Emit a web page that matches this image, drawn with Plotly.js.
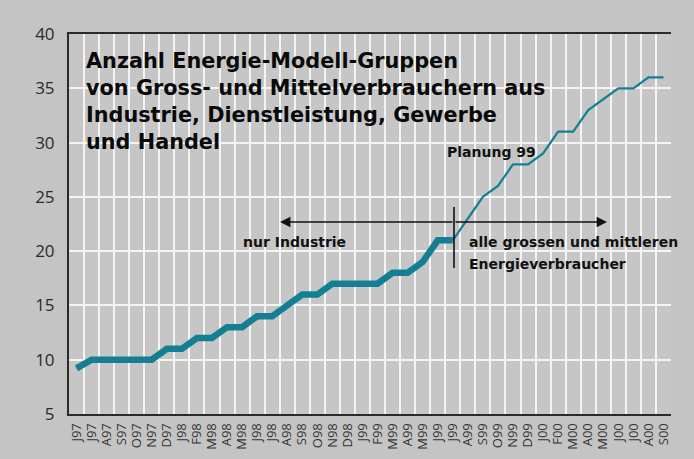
<!DOCTYPE html>
<html><head><meta charset="utf-8">
<script src="https://cdn.plot.ly/plotly-3.0.1.min.js"></script>
<style>html,body{margin:0;padding:0;background:#c4c4c4}</style>
</head><body><div id="chart" style="width:694px;height:459px"></div>
<script>
const months = ["J97","J97","A97","S97","O97","N97","D97","J98","F98","M98","A98","M98","J98","J98","A98","S98","O98","N98","D98","J99","F99","M99","A99","M99","J99","J99","A99","S99","O99","N99","D99","J00","F00","M00","A00","M00","J00","J00","A00","S00"];
const groups = [9.2,10,10,10,10,10,11,11,12,12,13,13,14,14,15,16,16,17,17,17,17,18,18,19,21,21,23,25,26,28,28,29,31,31,33,34,35,35,36,36];
const splitIndex = 25; // last actual month, start of "Planung 99"

const idx = months.map((_, i) => i);
const actualX = idx.slice(0, splitIndex + 1);
const actualY = groups.slice(0, splitIndex + 1);
const planX = idx.slice(splitIndex);
const planY = groups.slice(splitIndex);

const L = 69, R = 671, T = 34, B = 414, W = 694, H = 459;
const px = x => (x - L) / (R - L);
const py = y => (B - y) / (B - T);
const teal = "#137f95";
const bold = {family: "DejaVu Sans, sans-serif", size: 14, color: "#111", weight: "bold"};

const traces = [
  {x: actualX, y: actualY, type: "scatter", mode: "lines", line: {color: teal, width: 6.5}, hoverinfo: "skip"},
  {x: planX, y: planY, type: "scatter", mode: "lines", line: {color: teal, width: 2.2}, hoverinfo: "skip"},
  {x: [], y: [], xaxis: "x2", type: "scatter", hoverinfo: "skip"}
];

const layout = {
  width: W, height: H,
  margin: {l: L, r: W - R, t: T, b: H - B},
  paper_bgcolor: "#c4c4c4",
  plot_bgcolor: "#c6c6c6",
  showlegend: false,
  title: {
    text: "Anzahl Energie-Modell-Gruppen<br>von Gross- und Mittelverbrauchern aus<br>Industrie, Dienstleistung, Gewerbe<br>und Handel",
    font: {family: "DejaVu Sans, sans-serif", size: 20.8, color: "#0a0a0a", weight: "bold"},
    xref: "container", yref: "container",
    x: 86 / W, y: 1 - 68 / H, xanchor: "left", yanchor: "top", align: "left"
  },
  xaxis: {
    range: [-0.5, months.length - 0.5],
    tickmode: "array", tickvals: idx, ticktext: months,
    tickangle: -90, tickfont: {family: "Open Sans, sans-serif", size: 13, color: "#333"},
    showgrid: false, zeroline: false, ticks: "", ticklabelstandoff: 2,
    showline: true, linecolor: "#2a2a2a", linewidth: 2, mirror: true,
    fixedrange: true
  },
  xaxis2: {
    overlaying: "x", range: [-0.5, months.length - 0.5],
    tickmode: "linear", tick0: -0.5, dtick: 1,
    showgrid: true, gridcolor: "#f4f4f4", gridwidth: 2,
    showticklabels: false, ticks: "", zeroline: false, showline: false
  },
  yaxis: {
    range: [5, 40], tickmode: "linear", tick0: 5, dtick: 5,
    tickfont: {family: "Open Sans, sans-serif", size: 17, color: "#2a2a2a"},
    showgrid: true, gridcolor: "#f4f4f4", gridwidth: 2,
    zeroline: false, ticks: "", ticklabelstandoff: 9,
    showline: true, linecolor: "#2a2a2a", linewidth: 2,
    fixedrange: true
  },
  shapes: [
    {type: "line", xref: "paper", yref: "paper", x0: px(454), x1: px(454), y0: py(207), y1: py(268), line: {color: "#111", width: 1.6}}
  ],
  annotations: [
    {xref: "paper", yref: "paper", x: px(280), y: py(222), ax: 174, ay: 0, text: "", showarrow: true, arrowhead: 2, arrowsize: 1.3, arrowwidth: 1.6, arrowcolor: "#111"},
    {xref: "paper", yref: "paper", x: px(607), y: py(222), ax: -153, ay: 0, text: "", showarrow: true, arrowhead: 2, arrowsize: 1.3, arrowwidth: 1.6, arrowcolor: "#111"},
    {xref: "paper", yref: "paper", x: px(445), y: py(152), xanchor: "left", yanchor: "middle", text: "Planung 99", showarrow: false, font: bold},
    {xref: "paper", yref: "paper", x: px(241), y: py(242), xanchor: "left", yanchor: "middle", text: "nur Industrie", showarrow: false, font: bold},
    {xref: "paper", yref: "paper", x: px(467), y: py(242), xanchor: "left", yanchor: "middle", text: "alle grossen und mittleren", showarrow: false, font: bold},
    {xref: "paper", yref: "paper", x: px(467), y: py(264), xanchor: "left", yanchor: "middle", text: "Energieverbraucher", showarrow: false, font: bold}
  ]
};

Plotly.newPlot("chart", traces, layout, {displayModeBar: false, staticPlot: true});
</script>
</body></html>
